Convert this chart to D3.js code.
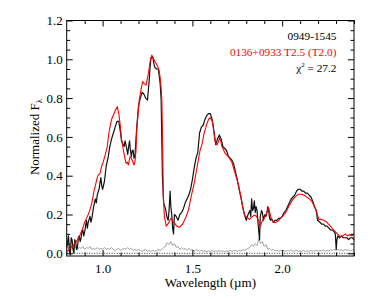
<!DOCTYPE html>
<html><head><meta charset="utf-8">
<script src="https://cdn.jsdelivr.net/npm/d3@7"></script>
<style>
html,body{margin:0;padding:0;background:#fff;}
</style></head>
<body>
<svg id="c" width="374" height="299" font-family="'Liberation Serif', 'Times New Roman', Times, 'DejaVu Serif', serif"></svg>
<script>
// ---- data ----
const xTicks = [1.0, 1.5, 2.0];
const yTicks = [0.0, 0.2, 0.4, 0.6, 0.8, 1.0, 1.2];
const objectName = "0949-1545";
const templateName = "0136+0933 T2.5 (T2.0)";
const chi2 = "27.2";

// observed spectrum 0949-1545 [wavelength um, normalized flux]
const observed = [
[0.80,0.03],[0.81,0.09],[0.815,0.01],[0.82,-0.01],[0.825,0.08],[0.83,0.07],[0.835,0.02],[0.84,0.00],[0.845,0.07],[0.85,0.06],[0.855,0.02],[0.86,0.03],[0.865,0.08],[0.87,0.09],[0.875,0.06],[0.88,0.08],[0.885,0.11],[0.89,0.12],[0.895,0.09],
[0.90,0.11],[0.91,0.17],[0.915,0.13],[0.92,0.16],[0.93,0.19],[0.935,0.16],[0.94,0.18],[0.95,0.24],[0.96,0.28],[0.965,0.26],[0.97,0.30],[0.98,0.33],[0.99,0.39],[0.995,0.35],
[1.00,0.33],[1.01,0.37],[1.02,0.45],[1.03,0.49],[1.04,0.55],[1.05,0.59],[1.06,0.62],[1.07,0.65],[1.08,0.68],[1.09,0.68],[1.10,0.62],[1.105,0.58],[1.11,0.57],[1.12,0.55],[1.125,0.58],[1.13,0.56],[1.14,0.51],[1.145,0.55],[1.15,0.58],[1.155,0.53],[1.16,0.50],[1.165,0.53],[1.17,0.53],[1.175,0.49],[1.18,0.50],
[1.19,0.65],[1.20,0.76],[1.21,0.80],[1.22,0.83],[1.23,0.82],[1.24,0.80],[1.25,0.79],[1.26,0.90],[1.265,0.97],[1.27,1.01],[1.28,1.01],[1.285,0.98],[1.29,0.96],[1.30,0.95],[1.31,0.95],[1.32,0.88],[1.326,0.79],[1.333,0.40],
[1.34,0.26],[1.35,0.23],[1.36,0.18],[1.365,0.17],[1.37,0.22],[1.376,0.32],[1.38,0.24],[1.385,0.20],[1.39,0.13],[1.395,0.10],[1.40,0.20],[1.41,0.19],[1.42,0.17],[1.43,0.20],[1.44,0.21],[1.45,0.23],[1.46,0.26],[1.47,0.28],[1.48,0.30],[1.49,0.33],
[1.50,0.38],[1.51,0.44],[1.52,0.49],[1.53,0.52],[1.54,0.62],[1.55,0.65],[1.56,0.66],[1.57,0.69],[1.58,0.71],[1.59,0.72],[1.60,0.72],[1.61,0.69],[1.62,0.63],[1.63,0.56],[1.64,0.59],[1.65,0.61],[1.66,0.59],[1.67,0.55],[1.68,0.54],[1.69,0.53],
[1.70,0.50],[1.71,0.49],[1.72,0.48],[1.73,0.46],[1.74,0.42],[1.75,0.38],[1.76,0.33],[1.77,0.29],[1.78,0.24],[1.79,0.20],[1.80,0.17],[1.81,0.20],[1.82,0.22],[1.825,0.19],[1.83,0.28],[1.835,0.22],[1.84,0.23],[1.845,0.27],[1.85,0.21],[1.855,0.24],[1.86,0.22],[1.866,0.15],[1.874,0.07],[1.878,0.19],[1.885,0.22],[1.89,0.21],
[1.895,0.17],[1.90,0.19],[1.905,0.20],[1.91,0.19],[1.915,0.21],[1.92,0.24],[1.925,0.22],[1.93,0.18],[1.935,0.17],[1.94,0.18],[1.95,0.16],[1.96,0.17],[1.97,0.17],[1.98,0.18],[1.99,0.18],
[2.00,0.19],[2.01,0.21],[2.02,0.22],[2.03,0.24],[2.04,0.26],[2.05,0.28],[2.06,0.29],[2.07,0.30],[2.08,0.32],[2.09,0.33],[2.10,0.33],[2.11,0.32],[2.12,0.32],[2.13,0.31],[2.14,0.31],[2.15,0.30],[2.16,0.29],[2.17,0.27],[2.18,0.24],[2.19,0.22],
[2.197,0.17],[2.21,0.16],[2.22,0.15],[2.23,0.15],[2.24,0.14],[2.25,0.14],[2.26,0.13],[2.27,0.12],[2.28,0.12],[2.29,0.11],[2.296,0.10],[2.301,0.02],[2.305,0.07],[2.31,0.09],[2.32,0.08],[2.33,0.09],[2.34,0.08],[2.35,0.08],[2.36,0.08],[2.37,0.07],[2.38,0.08],[2.39,0.08],[2.40,0.07]
];

// template 0136+0933
const template = [
[0.80,0.008],[0.82,0.025],[0.84,0.045],[0.86,0.07],[0.874,0.094],[0.89,0.13],[0.90,0.16],[0.91,0.18],[0.92,0.20],[0.93,0.225],[0.94,0.26],[0.952,0.32],[0.96,0.35],[0.97,0.39],[0.976,0.404],[0.985,0.41],[0.995,0.45],[1.004,0.472],[1.015,0.51],[1.026,0.55],
[1.035,0.62],[1.041,0.65],[1.05,0.69],[1.06,0.713],[1.07,0.735],[1.082,0.756],[1.09,0.72],[1.097,0.67],[1.106,0.584],[1.116,0.53],[1.124,0.49],[1.131,0.464],[1.138,0.47],[1.143,0.455],[1.153,0.498],[1.16,0.49],[1.168,0.472],[1.175,0.455],[1.18,0.47],[1.186,0.532],
[1.19,0.636],[1.204,0.79],[1.215,0.85],[1.223,0.885],[1.232,0.875],[1.242,0.867],[1.255,0.928],[1.265,0.99],[1.274,1.022],[1.282,1.005],[1.292,0.987],[1.30,0.975],[1.307,0.962],[1.315,0.94],[1.32,0.91],[1.326,0.85],[1.33,0.79],[1.335,0.53],[1.338,0.29],[1.344,0.19],
[1.354,0.14],[1.367,0.155],[1.38,0.18],[1.394,0.163],[1.413,0.14],[1.428,0.134],[1.446,0.151],[1.465,0.189],[1.478,0.223],[1.493,0.292],[1.51,0.36],[1.528,0.455],[1.543,0.532],[1.553,0.56],[1.565,0.618],[1.58,0.666],[1.59,0.69],[1.599,0.70],[1.612,0.678],[1.62,0.62],
[1.627,0.575],[1.636,0.558],[1.645,0.575],[1.651,0.595],[1.658,0.58],[1.664,0.55],[1.67,0.54],[1.682,0.515],[1.70,0.498],[1.719,0.472],[1.738,0.412],[1.757,0.352],[1.77,0.292],[1.78,0.24],[1.79,0.197],[1.803,0.186],[1.817,0.175],[1.831,0.186],[1.844,0.197],[1.855,0.192],
[1.868,0.17],[1.877,0.137],[1.887,0.163],[1.90,0.18],[1.91,0.197],[1.924,0.237],[1.937,0.186],[1.947,0.163],[1.961,0.158],[1.98,0.168],[1.998,0.187],[2.017,0.206],[2.036,0.24],[2.054,0.27],[2.073,0.292],[2.091,0.304],[2.11,0.304],[2.128,0.296],[2.147,0.284],[2.166,0.266],
[2.184,0.232],[2.197,0.197],[2.204,0.175],[2.215,0.175],[2.23,0.17],[2.245,0.163],[2.258,0.15],[2.271,0.137],[2.286,0.12],[2.305,0.103],[2.323,0.086],[2.338,0.09],[2.351,0.10],[2.364,0.09],[2.375,0.095],[2.388,0.09],[2.40,0.10]
];

// noise spectrum
const noise = [
[0.80,0.05],[0.81,0.02],[0.82,0.04],[0.83,0.03],[0.84,0.02],[0.85,0.035],[0.86,0.02],[0.87,0.03],[0.88,0.025],[0.89,0.035],[0.90,0.02],[0.91,0.03],[0.92,0.025],[0.93,0.035],[0.94,0.02],[0.95,0.025],[0.96,0.02],[0.97,0.03],[0.98,0.02],[0.99,0.025],
[1.00,0.02],[1.01,0.03],[1.02,0.02],[1.03,0.025],[1.04,0.02],[1.05,0.03],[1.06,0.02],[1.07,0.015],[1.08,0.02],[1.09,0.025],[1.10,0.015],[1.11,0.02],[1.12,0.025],[1.13,0.02],[1.14,0.03],[1.15,0.02],[1.16,0.025],[1.17,0.015],[1.18,0.02],[1.19,0.015],
[1.20,0.02],[1.21,0.015],[1.22,0.01],[1.23,0.015],[1.24,0.02],[1.25,0.01],[1.26,0.015],[1.27,0.01],[1.28,0.015],[1.29,0.01],[1.30,0.015],[1.31,0.02],[1.32,0.015],[1.33,0.02],[1.34,0.03],[1.35,0.035],[1.36,0.055],[1.37,0.045],[1.38,0.06],[1.39,0.04],
[1.40,0.05],[1.41,0.03],[1.42,0.035],[1.43,0.02],[1.44,0.03],[1.45,0.02],[1.46,0.025],[1.47,0.015],[1.48,0.025],[1.49,0.015],[1.50,0.02],[1.51,0.01],[1.52,0.02],[1.53,0.015],[1.54,0.01],[1.55,0.015],[1.56,0.01],[1.57,0.012],[1.58,0.008],[1.59,0.012],
[1.60,0.01],[1.61,0.015],[1.62,0.008],[1.63,0.012],[1.64,0.01],[1.65,0.015],[1.66,0.01],[1.67,0.012],[1.68,0.008],[1.69,0.012],[1.70,0.01],[1.71,0.015],[1.72,0.01],[1.73,0.012],[1.74,0.015],[1.75,0.01],[1.76,0.015],[1.77,0.012],[1.78,0.018],[1.79,0.015],
[1.80,0.02],[1.81,0.025],[1.82,0.03],[1.83,0.045],[1.84,0.035],[1.85,0.05],[1.86,0.04],[1.87,0.075],[1.88,0.05],[1.89,0.06],[1.90,0.035],[1.91,0.045],[1.92,0.02],[1.93,0.025],[1.94,0.015],[1.95,0.02],[1.96,0.012],[1.97,0.015],[1.98,0.01],[1.99,0.015],
[2.00,0.012],[2.01,0.015],[2.02,0.01],[2.03,0.015],[2.04,0.012],[2.05,0.018],[2.06,0.01],[2.07,0.012],[2.08,0.015],[2.09,0.01],[2.10,0.012],[2.11,0.01],[2.12,0.015],[2.13,0.01],[2.14,0.012],[2.15,0.01],[2.16,0.015],[2.17,0.01],[2.18,0.012],[2.19,0.015],
[2.20,0.01],[2.21,0.015],[2.22,0.012],[2.23,0.018],[2.24,0.01],[2.25,0.015],[2.26,0.012],[2.27,0.018],[2.28,0.015],[2.29,0.02],[2.30,0.015],[2.31,0.02],[2.32,0.015],[2.33,0.018],[2.34,0.012],[2.35,0.02],[2.36,0.015],[2.37,0.018],[2.38,0.012],[2.39,0.018],[2.40,0.015]
];

// ---- layout ----
const FONT = "'Liberation Serif', 'Times New Roman', Times, 'DejaVu Serif', serif";
const L = 66.7, R = 354, T = 20.5, B = 256;
const svg = d3.select("#c");
const x = d3.scaleLinear().domain([0.8, 2.4]).range([L, R]);
const y = d3.scaleLinear().domain([-0.014, 1.2]).range([B, T]);

svg.append("defs").append("clipPath").attr("id","clip")
  .append("rect").attr("x",L).attr("y",T).attr("width",R-L).attr("height",B-T);

const plot = svg.append("g").attr("clip-path","url(#clip)");
const line = d3.line().x(d=>x(d[0])).y(d=>y(d[1]));

// zero line (dotted)
plot.append("line").attr("x1",x(0.8)).attr("x2",x(2.4)).attr("y1",y(0)).attr("y2",y(0))
  .attr("stroke","#000").attr("stroke-width",0.8).attr("stroke-dasharray","1,1.5");

plot.append("path").datum(noise).attr("d",line).attr("fill","none").attr("stroke","#a0a0a0").attr("stroke-width",1);
plot.append("path").datum(observed).attr("d",line).attr("fill","none").attr("stroke","#111").attr("stroke-width",1.2).attr("stroke-linejoin","round");
plot.append("path").datum(template).attr("d",line).attr("fill","none").attr("stroke","#ff0000").attr("stroke-width",1.1).attr("stroke-linejoin","round");

// ---- axes ----
const xMinor = d3.range(9, 25).map(v => v/10).filter(v => !xTicks.some(t => Math.abs(t-v)<1e-6));
const yMinor = d3.range(0, 25).map(v => v*0.05).filter(v => !yTicks.some(t => Math.abs(t-v)<1e-6));
const fmt = d3.format(".1f");

function styleAxis(g){
  g.attr("font-family", FONT);
  g.select(".domain").remove();
  g.selectAll("line").attr("stroke","#000").attr("stroke-width",1);
  g.selectAll("text").attr("font-size","13px").attr("fill","#000").attr("font-family", FONT);
}
svg.append("g").attr("transform",`translate(0,${B})`)
  .call(d3.axisBottom(x).tickValues(xTicks).tickFormat(fmt).tickSize(-6).tickPadding(8)).call(styleAxis);
svg.append("g").attr("transform",`translate(0,${B})`)
  .call(d3.axisBottom(x).tickValues(xMinor).tickFormat("").tickSize(-3.5)).call(styleAxis);
svg.append("g").attr("transform",`translate(0,${T})`)
  .call(d3.axisTop(x).tickValues(xTicks).tickFormat("").tickSize(-6)).call(styleAxis);
svg.append("g").attr("transform",`translate(0,${T})`)
  .call(d3.axisTop(x).tickValues(xMinor).tickFormat("").tickSize(-3.5)).call(styleAxis);
svg.append("g").attr("transform",`translate(${L},0)`)
  .call(d3.axisLeft(y).tickValues(yTicks).tickFormat(fmt).tickSize(-6).tickPadding(4)).call(styleAxis);
svg.append("g").attr("transform",`translate(${L},0)`)
  .call(d3.axisLeft(y).tickValues(yMinor).tickFormat("").tickSize(-3.5)).call(styleAxis);
svg.append("g").attr("transform",`translate(${R},0)`)
  .call(d3.axisRight(y).tickValues(yTicks).tickFormat("").tickSize(-6)).call(styleAxis);
svg.append("g").attr("transform",`translate(${R},0)`)
  .call(d3.axisRight(y).tickValues(yMinor).tickFormat("").tickSize(-3.5)).call(styleAxis);

svg.append("rect").attr("x",L).attr("y",T).attr("width",R-L).attr("height",B-T)
  .attr("fill","none").attr("stroke","#000").attr("stroke-width",1);

// axis titles
svg.append("text").attr("x",(L+R)/2).attr("y",287).attr("text-anchor","middle")
  .attr("font-family",FONT).attr("font-size","13px").text("Wavelength (\u00b5m)");
const yl = svg.append("text").attr("transform",`translate(39,137) rotate(-90)`).attr("text-anchor","middle")
  .attr("font-family",FONT).attr("font-size","13px");
yl.append("tspan").text("Normalized F");
yl.append("tspan").attr("font-size","9px").attr("dy","3").text("\u03bb");

// legend
const lx = 336.5;
svg.append("text").attr("x",lx).attr("y",39.5).attr("text-anchor","end").attr("font-family",FONT).attr("font-size","11.3px").attr("fill","#000").text(objectName);
svg.append("text").attr("x",lx).attr("y",55.5).attr("text-anchor","end").attr("font-family",FONT).attr("font-size","11.3px").attr("fill","#ff0000").text(templateName);
const ct = svg.append("text").attr("x",lx).attr("y",71.5).attr("text-anchor","end").attr("font-family",FONT).attr("font-size","11.3px").attr("fill","#000");
ct.append("tspan").text("\u03c7");
ct.append("tspan").attr("font-size","7px").attr("dy","-5").text("2");
ct.append("tspan").attr("dy","5").text(" = " + chi2);
</script>
</body></html>
